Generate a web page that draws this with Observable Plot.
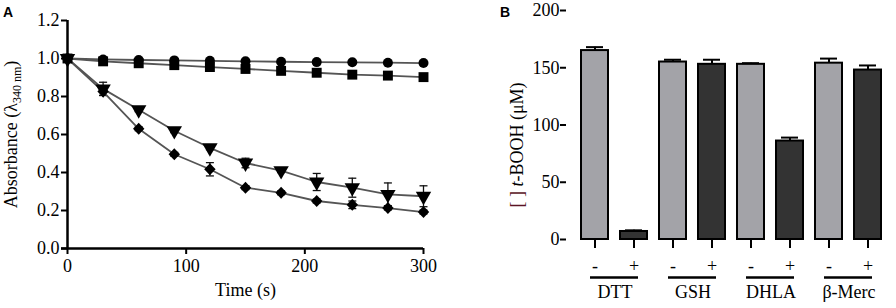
<!DOCTYPE html>
<html>
<head>
<meta charset="utf-8">
<script src="https://cdn.jsdelivr.net/npm/d3@7"></script>
<script src="https://cdn.jsdelivr.net/npm/@observablehq/plot@0.6"></script>
<style>
  html, body { margin: 0; padding: 0; background: #fff; }
  #wrap { position: relative; width: 896px; height: 308px; display: flex; }
  .panel { position: relative; width: 448px; height: 308px; }
  .letter { position: absolute; font-family: "Liberation Sans", Arial, sans-serif; font-weight: bold; font-size: 14px; color: #000; }
  svg { overflow: visible; }
</style>
</head>
<body>
<div id="wrap">
  <div class="panel" id="panelA"><div class="letter" style="left:3px;top:4px">A</div></div>
  <div class="panel" id="panelB"><div class="letter" style="left:52px;top:4px">B</div></div>
</div>
<script>
// ---------- Panel A data ----------
const times = [0, 30, 60, 90, 120, 150, 180, 210, 240, 270, 300];
const circleVals = [1.0, 0.995, 0.992, 0.99, 0.988, 0.985, 0.983, 0.981, 0.98, 0.978, 0.976];
const squareVals = [1.0, 0.985, 0.975, 0.965, 0.955, 0.945, 0.935, 0.925, 0.915, 0.91, 0.902];
const triVals = [1.0, 0.84, 0.73, 0.62, 0.53, 0.45, 0.41, 0.35, 0.32, 0.285, 0.275];
const triErrs = [0, 0.035, 0.01, 0.01, 0.01, 0.025, 0.01, 0.045, 0.05, 0.06, 0.055];
const diaVals = [1.0, 0.826, 0.63, 0.496, 0.417, 0.32, 0.293, 0.25, 0.23, 0.213, 0.192];
const diaErrs = [0, 0.02, 0.01, 0.01, 0.035, 0.01, 0.01, 0.01, 0.02, 0.01, 0.01];
const xTicksA = [0, 100, 200, 300];
const yTicksA = [0, 0.2, 0.4, 0.6, 0.8, 1.0, 1.2];
const xTitleA = "Time (s)";
const yTitleA = "Absorbance (λ340 nm)";

// ---------- Panel B data ----------
const groups = ["DTT", "GSH", "DHLA", "β-Merc"];
const signs = ["-", "+"];
const barIds = ["DTT-", "DTT+", "GSH-", "GSH+", "DHLA-", "DHLA+", "β-Merc-", "β-Merc+"];
const barVals = [165, 7, 155, 153, 153, 86, 154, 148];
const barErrs = [3, 1, 2, 4, 1, 3, 4, 4];
const yTicksB = [0, 50, 100, 150, 200];
const yTitleB = "[ ] t-BOOH (μM)";

// ---------- helpers ----------
const triDown = {
  draw(ctx, size) {
    const a = Math.sqrt(size * 4 / Math.sqrt(3)) * 1.1;
    const h = a * Math.sqrt(3) / 2;
    ctx.moveTo(-a / 2, -h / 3);
    ctx.lineTo(a / 2, -h / 3);
    ctx.lineTo(0, 2 * h / 3);
    ctx.closePath();
  }
};
const diamondSym = {
  draw(ctx, size) {
    const s = Math.sqrt(size) * 0.62;
    ctx.moveTo(0, -s * 1.05);
    ctx.lineTo(s, 0);
    ctx.lineTo(0, s * 1.05);
    ctx.lineTo(-s, 0);
    ctx.closePath();
  }
};
const capSym = {
  draw(ctx, size) {
    ctx.moveTo(-4, 0);
    ctx.lineTo(4, 0);
  }
};

const series = (vals, errs) => times.map((t, i) => ({t, v: vals[i], e: errs ? errs[i] : 0}));
const circ = series(circleVals);
const sq = series(squareVals);
const tri = series(triVals, triErrs);
const dia = series(diaVals, diaErrs);
const triE = tri.filter(d => d.e > 0);
const diaE = dia.filter(d => d.e > 0);

const font = {fontFamily: "Liberation Serif", fontSize: "18px", color: "#000", background: "#fff"};

const plotA = Plot.plot({
  width: 448, height: 308,
  marginLeft: 67, marginRight: 25, marginTop: 20, marginBottom: 60,
  style: font,
  x: {domain: [0, 300], ticks: xTicksA, tickSize: 6, tickPadding: 5, label: null},
  y: {domain: [0, 1.2], ticks: yTicksA, tickFormat: d3.format(".1f"), tickSize: 6, tickPadding: 2, label: null},
  marks: [
    Plot.ruleX(triE, {x: "t", y1: d => d.v - d.e, y2: d => d.v + d.e, stroke: "#111", strokeWidth: 1.3}),
    Plot.dot(triE, {x: "t", y: d => d.v + d.e, symbol: capSym, stroke: "#111", strokeWidth: 1.3, fill: "none"}),
    Plot.dot(triE, {x: "t", y: d => d.v - d.e, symbol: capSym, stroke: "#111", strokeWidth: 1.3, fill: "none"}),
    Plot.ruleX(diaE, {x: "t", y1: d => d.v - d.e, y2: d => d.v + d.e, stroke: "#111", strokeWidth: 1.3}),
    Plot.dot(diaE, {x: "t", y: d => d.v + d.e, symbol: capSym, stroke: "#111", strokeWidth: 1.3, fill: "none"}),
    Plot.dot(diaE, {x: "t", y: d => d.v - d.e, symbol: capSym, stroke: "#111", strokeWidth: 1.3, fill: "none"}),
    Plot.line(sq, {x: "t", y: "v", stroke: "#555", strokeWidth: 1.8}),
    Plot.line(circ, {x: "t", y: "v", stroke: "#555", strokeWidth: 1.8}),
    Plot.line(tri, {x: "t", y: "v", stroke: "#555", strokeWidth: 1.8}),
    Plot.line(dia, {x: "t", y: "v", stroke: "#555", strokeWidth: 1.8}),
    Plot.dot(sq, {x: "t", y: "v", symbol: "square", r: 5.6, fill: "#000"}),
    Plot.dot(circ, {x: "t", y: "v", symbol: "circle", r: 5, fill: "#000"}),
    Plot.dot(tri, {x: "t", y: "v", symbol: triDown, r: 5.2, fill: "#000"}),
    Plot.dot(dia, {x: "t", y: "v", symbol: diamondSym, r: 5.2, fill: "#000"}),
    Plot.ruleY([0], {stroke: "#000", strokeWidth: 2.5, insetLeft: -6}),
    Plot.ruleX([0], {stroke: "#000", strokeWidth: 2.5}),
    Plot.text([xTitleA], {frameAnchor: "bottom", textAnchor: "middle", dy: 47, fontSize: 18, text: d => d}),
    Plot.text([yTitleA], {frameAnchor: "left", textAnchor: "middle", dx: -56, rotate: -90, fontSize: 18, text: d => d})
  ]
});

const rows = barIds.map((id, i) => ({id, group: groups[Math.floor(i / 2)], sign: signs[i % 2], v: barVals[i], e: barErrs[i]}));
const firstOfGroup = rows.filter(d => d.sign === signs[0]);
const lastOfGroup = rows.filter(d => d.sign === signs[1]);
const groupRows = groups.map((g, i) => ({g, x1: firstOfGroup[i].id, x2: lastOfGroup[i].id}));

const plotB = Plot.plot({
  width: 448, height: 308,
  marginLeft: 118, marginRight: 1, marginTop: 10, marginBottom: 69,
  style: font,
  x: {domain: barIds, paddingInner: 0.32, paddingOuter: 0.29, tickSize: 9, tickPadding: 11,
      tickFormat: (d) => rows.find(r => r.id === d).sign, label: null},
  y: {domain: [0, 200], ticks: yTicksB, tickSize: 6, tickPadding: 1, label: null},
  color: {domain: signs, range: ["#a3a3a8", "#333333"]},
  marks: [
    Plot.ruleX(rows, {x: "id", y1: "v", y2: d => d.v + d.e, stroke: "#000", strokeWidth: 2}),
    Plot.barY(rows, {x: "id", y: "v", fill: "sign", stroke: "#000", strokeWidth: 2}),
    Plot.tickY(rows, {x: "id", y: d => d.v + d.e, stroke: "#000", strokeWidth: 2, insetLeft: 5, insetRight: 5}),
    Plot.ruleY([0], {x2: barIds[barIds.length - 1], stroke: "#000", strokeWidth: 2.5, insetLeft: -6}),
    Plot.ruleX([0], {stroke: "#000", strokeWidth: 2.5}),
    Plot.ruleY(groupRows, {y: 0, x1: "x1", x2: "x2", dy: 38, stroke: "#000", strokeWidth: 2.5, insetLeft: 9, insetRight: 9}),
    Plot.text(groupRows, {x: "x1", y: 0, text: "g", dx: 20, dy: 53, fontSize: 18}),
    Plot.text([yTitleB], {frameAnchor: "left", textAnchor: "middle", dx: -49, dy: 20, rotate: -90, fontSize: 18, text: d => d})
  ]
});

document.getElementById("panelA").appendChild(plotA);
document.getElementById("panelB").appendChild(plotB);

// uniform serif text; thicker axis ticks
d3.selectAll("svg text")
  .style("font-family", "'Liberation Serif', 'Times New Roman', serif")
  .style("font-size", "18px");
d3.selectAll('svg g[aria-label^="x-axis tick"], svg g[aria-label^="y-axis tick"], svg .tick line')
  .style("stroke-width", "2");

// rich text for the axis titles (subscript / italic)
d3.selectAll("svg text").each(function () {
  const el = d3.select(this);
  const txt = this.textContent;
  if (txt === yTitleA) {
    el.text(null);
    el.append("tspan").text("Absorbance (λ");
    el.append("tspan").style("font-size", "12px").attr("dy", 4).text("340 nm");
    el.append("tspan").attr("dy", -4).text(")");
  } else if (txt === yTitleB) {
    el.text(null);
    el.append("tspan").attr("fill", "#5a1424").text("[ ] ");
    el.append("tspan").attr("font-style", "italic").text("t");
    el.append("tspan").text("-BOOH (μM)");
  }
});
</script>
</body>
</html>
